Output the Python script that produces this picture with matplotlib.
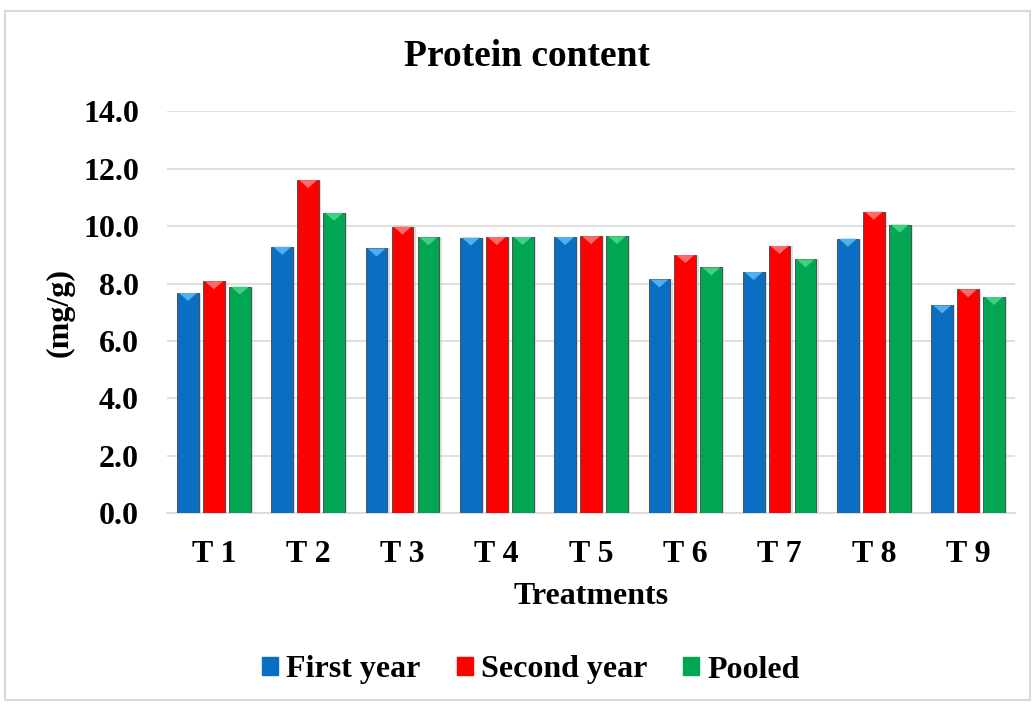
import matplotlib.pyplot as plt
import matplotlib.patches as mpatches
import numpy as np

plt.rcParams['font.family'] = ['Liberation Serif', 'DejaVu Serif']
plt.rcParams['font.weight'] = 'bold'

treatments = ['T 1', 'T 2', 'T 3', 'T 4', 'T 5', 'T 6', 'T 7', 'T 8', 'T 9']
first_year = [7.67, 9.28, 9.22, 9.60, 9.62, 8.14, 8.40, 9.56, 7.24]
second_year = [8.08, 11.60, 9.98, 9.62, 9.65, 8.99, 9.31, 10.50, 7.80]
pooled = [7.89, 10.46, 9.61, 9.62, 9.65, 8.56, 8.84, 10.05, 7.53]
yticks = [0, 2, 4, 6, 8, 10, 12, 14]

series = [
    ('First year', first_year, '#0a6fc2', '#4fb0f0'),
    ('Second year', second_year, '#ff0000', '#ff6a6a'),
    ('Pooled', pooled, '#00a651', '#40d080'),
]

fig = plt.figure(figsize=(10.36, 7.04), dpi=100)
# outer chart border
fig.patches.append(mpatches.Rectangle((5 / 1036, 4 / 704), 1025 / 1036, 689 / 704,
                                      transform=fig.transFigure, fill=False,
                                      edgecolor='#d9d9d9', linewidth=1.5))

ax = fig.add_axes([0.161, 0.271, 0.819, 0.571])
x = np.arange(len(treatments))
width = 0.23
step = 0.275

for i, (name, vals, color, light) in enumerate(series):
    pos = x + (i - 1) * step
    # soft shadow behind each bar
    ax.bar(pos + 0.025, vals, width, color='#bdbdbd', alpha=0.5, zorder=2)
    bars = ax.bar(pos, vals, width, color=color, edgecolor='#444444',
                  linewidth=0.6, label=name, zorder=3)
    # bevel highlight on the top of each bar
    for b in bars:
        bx, bw, h = b.get_x(), b.get_width(), b.get_height()
        tri = mpatches.Polygon([[bx + 0.02, h], [bx + bw - 0.02, h], [bx + bw / 2, h - 0.28]],
                               closed=True, color=light, zorder=4, linewidth=0)
        ax.add_patch(tri)

ax.set_xlim(-0.5, len(treatments) - 0.5)
ax.set_ylim(0, 14)
ax.set_yticks(yticks)
ax.set_yticklabels([f'{v:.1f}' for v in yticks])
ax.set_xticks(x)
ax.set_xticklabels(treatments)
ax.tick_params(axis='both', length=0, labelsize=23)
ax.tick_params(axis='y', pad=20)
ax.tick_params(axis='x', pad=19)
ax.grid(axis='y', color='#d9d9d9', linewidth=1.2, zorder=0)
ax.set_axisbelow(True)
for side in ['top', 'right', 'left']:
    ax.spines[side].set_visible(False)
ax.spines['bottom'].set_color('#d9d9d9')
ax.spines['bottom'].set_linewidth(1.2)

fig.text(527 / 1036, 1 - 56 / 704, 'Protein content', fontsize=27, fontweight='bold',
         ha='center', va='center')
ax.set_xlabel('Treatments', fontsize=23, fontweight='bold', labelpad=10)
ax.set_ylabel('(mg/g)', fontsize=23, fontweight='bold', labelpad=6)

fig.legend(handles=[mpatches.Patch(color=c) for _, _, c, _ in series],
           labels=[s[0] for s in series], loc='center', bbox_to_anchor=(531 / 1036, 1 - 670 / 704),
           ncol=3, frameon=False, fontsize=23, handlelength=0.5, handleheight=0.5,
           handletextpad=0.25, columnspacing=1.13)

fig.savefig('out.png', dpi=100)
